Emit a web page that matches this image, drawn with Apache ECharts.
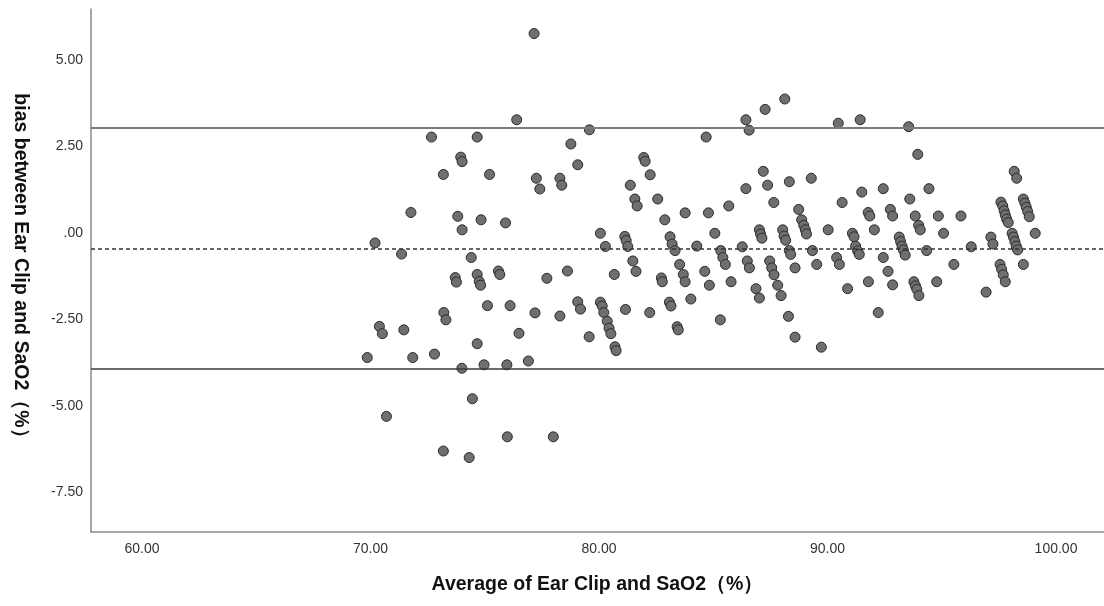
<!DOCTYPE html>
<html>
<head>
<meta charset="utf-8">
<script src="https://cdn.jsdelivr.net/npm/echarts@6/dist/echarts.min.js"></script>
<style>
html,body{margin:0;padding:0;background:#fff;}
#chart{width:1104px;height:606px;}
</style>
</head>
<body>
<div id="chart"></div>
<script>
// Average of Ear Clip and SaO2 (%) vs bias (%)
const avgValues = [
  77.16,76.40,79.58,72.67,74.67,78.77,73.95,74.01,79.07,73.19,75.21,77.26,77.41,78.29,78.37,
  71.77,73.82,74.01,74.84,75.91,70.20,71.36,74.41,73.71,73.76,74.67,74.76,74.82,75.60,75.66,
  77.72,78.62,75.12,76.11,77.20,78.29,79.07,79.19,73.21,73.30,70.39,70.52,71.46,76.50,79.57,
  74.67,69.86,71.85,72.80,74.00,74.97,75.97,76.91,74.46,70.70,75.99,78.00,73.19,74.32,
  80.06,80.28,80.67,81.13,81.19,81.26,81.48,81.62,81.37,81.57,81.67,81.96,82.02,82.24,82.57,
  82.88,82.73,82.77,83.11,83.20,83.33,83.53,83.69,83.77,83.77,84.28,84.63,84.79,84.83,84.69,
  85.07,85.33,85.42,85.53,85.68,85.78,86.27,86.43,86.43,86.57,86.49,86.58,86.87,87.02,87.02,
  87.07,87.13,87.19,87.27,87.38,87.47,87.56,87.66,87.82,87.97,87.65,88.04,88.10,88.17,88.13,
  88.33,88.33,88.39,88.58,88.29,88.58,88.74,88.87,88.96,89.03,89.08,89.29,89.34,89.53,89.73,
  80.06,80.14,80.21,80.36,80.44,80.52,80.70,80.75,81.16,82.22,83.08,83.15,84.02,83.42,83.47,85.31,
  90.03,90.47,91.43,93.55,93.95,90.64,91.50,92.44,93.60,94.44,91.78,91.85,92.75,92.85,93.84,
  94.85,95.84,92.05,93.99,94.06,95.08,91.09,91.16,91.23,91.32,91.39,93.14,93.20,93.26,93.32,
  93.40,94.34,96.29,97.15,97.24,98.17,98.28,97.59,97.67,97.73,97.78,97.84,97.91,98.08,98.14,
  98.20,98.26,98.32,98.57,98.64,98.70,98.76,98.83,99.09,98.57,97.55,97.62,97.69,97.78,96.94,
  95.53,94.78,93.78,93.85,93.91,94.00,92.85,92.65,92.44,92.22,91.79,90.88,90.40,90.52
];
const biasValues = [
  5.76,3.27,2.98,2.77,2.77,2.57,2.19,2.06,1.97,1.69,1.69,1.58,1.27,1.58,1.38,
  0.59,0.48,0.09,0.38,0.29,-0.29,-0.61,-0.71,-1.29,-1.42,-1.20,-1.40,-1.51,-1.10,-1.20,
  -1.31,-1.10,-2.10,-2.10,-2.31,-2.40,-1.99,-2.20,-2.30,-2.51,-2.70,-2.91,-2.80,-2.90,-3.00,
  -3.20,-3.60,-3.60,-3.50,-3.91,-3.81,-3.81,-3.70,-4.79,-5.30,-5.89,-5.89,-6.30,-6.49,
  -0.01,-0.39,-1.20,-0.10,-0.22,-0.39,-0.81,-1.11,1.38,0.98,0.78,2.18,2.07,1.68,0.98,
  0.38,-1.30,-1.41,-0.11,-0.32,-0.51,-0.91,-1.20,-1.41,0.58,-0.38,-1.11,0.58,-1.51,2.77,
  -0.01,-0.51,-0.71,-0.91,0.78,-1.41,-0.40,1.28,3.27,2.97,-0.81,-1.01,-1.61,-1.88,0.09,
  -0.03,-0.15,1.78,3.57,1.38,-0.81,-1.01,-1.21,-1.51,-1.81,0.88,0.09,-0.09,-0.21,3.87,
  1.48,-0.51,-0.62,-1.01,-2.41,-3.01,0.68,0.38,0.22,0.09,-0.03,1.58,-0.51,-0.91,-3.30,
  -2.00,-2.11,-2.30,-2.55,-2.75,-2.91,-3.29,-3.40,-2.21,-2.30,-2.00,-2.11,-1.91,-2.71,-2.80,-2.51,
  0.09,3.17,3.27,3.07,2.27,0.88,1.18,1.28,0.98,1.28,0.59,0.49,0.68,0.49,0.49,
  0.49,0.49,0.09,0.22,0.09,-0.01,-0.01,-0.11,-0.38,-0.52,-0.62,-0.12,-0.25,-0.38,-0.49,
  -0.64,-0.51,-0.40,-0.12,-0.32,1.78,1.58,0.89,0.78,0.64,0.52,0.40,0.30,-0.01,-0.12,
  -0.25,-0.38,-0.49,0.98,0.86,0.74,0.62,0.47,-0.01,-0.91,-0.91,-1.05,-1.21,-1.41,-1.71,
  -0.91,-1.41,-1.41,-1.53,-1.63,-1.81,-1.50,-1.11,-0.71,-2.30,-1.41,-1.61,-0.71,-0.91
];
const meanBias = -0.46;
const upperLoA = 3.03;
const lowerLoA = -3.93;
const xTicks = [60, 70, 80, 90, 100];
const yTicks = [-7.5, -5, -2.5, 0, 2.5, 5];

const points = avgValues.map((x, i) => [x, biasValues[i]]);
const fmt = v => { const s = Number(v).toFixed(2); return s.replace(/^0\./, '.').replace(/^-0\.00$/, '.00'); };

const chart = echarts.init(document.getElementById('chart'), null, {renderer: 'canvas'});
chart.setOption({
  animation: false,
  backgroundColor: '#ffffff',
  grid: {left: 91, right: 0, top: 9, bottom: 74, containLabel: false},
  xAxis: {
    type: 'value', min: 57.77, max: 102.1,
    name: 'Average of Ear Clip and SaO2（%）',
    nameLocation: 'middle', nameGap: 43,
    nameTextStyle: {fontFamily: 'Liberation Sans, Arial', fontWeight: 'bold', fontSize: 19.5, color: '#111'},
    axisLine: {show: true, onZero: false, lineStyle: {color: '#8a8a8a', width: 1.5}},
    axisTick: {show: false},
    splitLine: {show: false},
    axisLabel: {customValues: xTicks, formatter: fmt, margin: 10, fontFamily: 'Liberation Sans, Arial', fontSize: 14, color: '#333'}
  },
  yAxis: {
    type: 'value', min: -8.64, max: 6.47,
    name: 'bias between Ear Clip and SaO2（%）',
    nameLocation: 'middle', nameGap: 61, nameRotate: -90,
    nameTextStyle: {fontFamily: 'Liberation Sans, Arial', fontWeight: 'bold', fontSize: 19.5, color: '#111'},
    axisLine: {show: true, onZero: false, lineStyle: {color: '#8a8a8a', width: 1.5}},
    axisTick: {show: false},
    splitLine: {show: false},
    axisLabel: {customValues: yTicks, formatter: fmt, margin: 8, fontFamily: 'Liberation Sans, Arial', fontSize: 14, color: '#333'}
  },
  series: [{
    type: 'scatter',
    data: points,
    symbol: 'circle',
    symbolSize: 10,
    itemStyle: {color: '#6f6f6f', borderColor: '#2b2b2b', borderWidth: 1, opacity: 1},
    markLine: {
      silent: true, symbol: 'none', animation: false,
      label: {show: false},
      data: [
        {yAxis: upperLoA, lineStyle: {color: '#7a7a7a', width: 2, type: 'solid'}},
        {yAxis: meanBias, lineStyle: {color: '#333', width: 1.5, type: [4, 3]}},
        {yAxis: lowerLoA, lineStyle: {color: '#3a3a3a', width: 1.5, type: 'solid'}}
      ]
    },
    z: 3
  }]
});
</script>
</body>
</html>
